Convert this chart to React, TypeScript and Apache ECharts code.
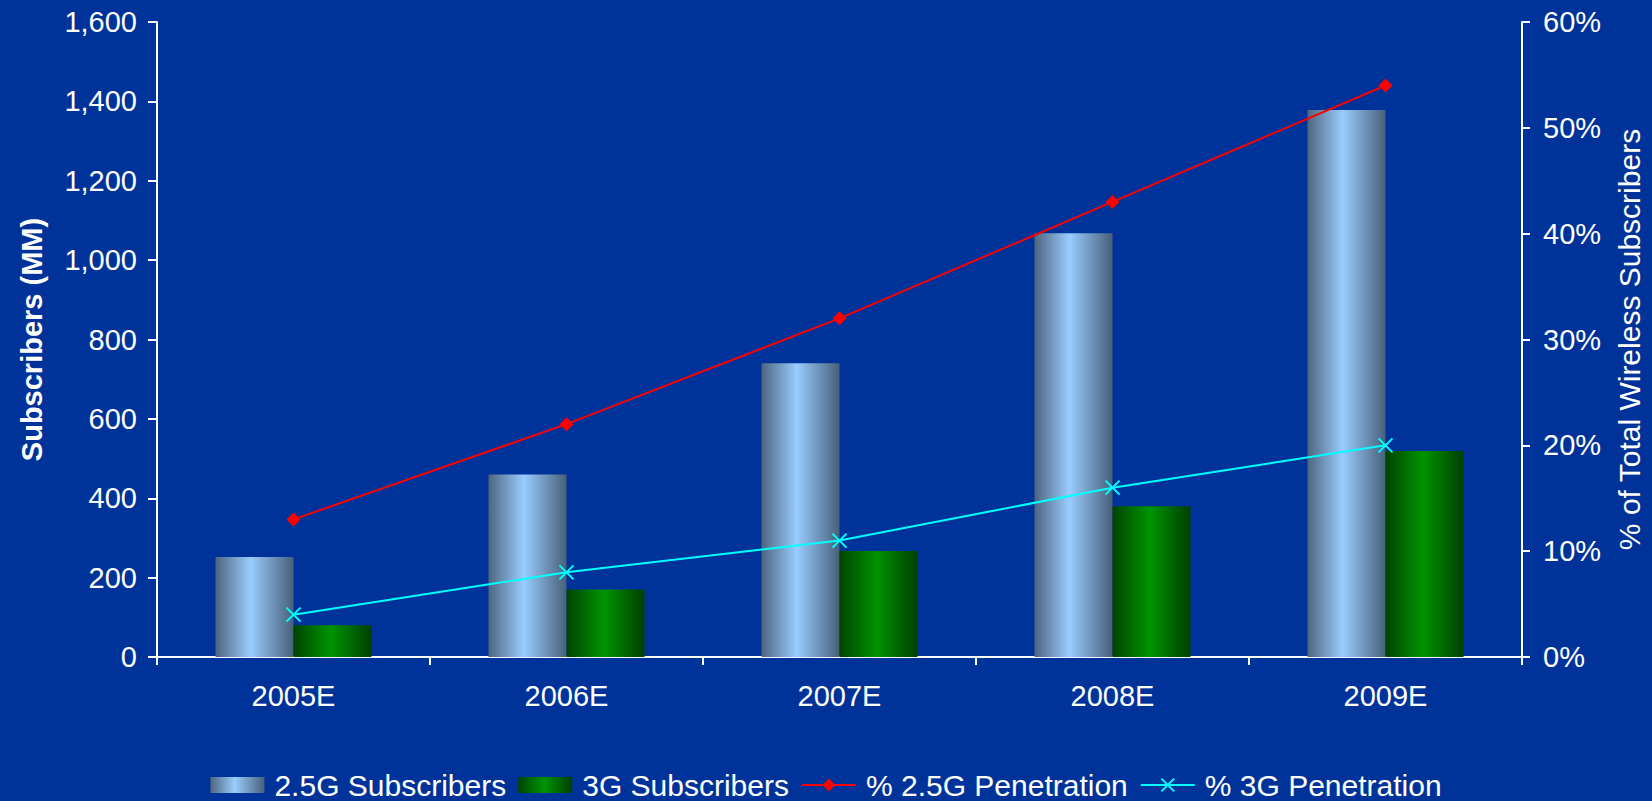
import React, { useEffect, useRef } from "react";
import * as echarts from "echarts";

const categories = ["2005E", "2006E", "2007E", "2008E", "2009E"];
const subscribers25G = [252, 460, 740, 1068, 1378];
const subscribers3G = [80, 170, 267, 380, 519];
const penetration25G = [13, 22, 32, 43, 54];
const penetration3G = [4, 8, 11, 16, 20];

const FONT = "'Liberation Sans', Arial, sans-serif";
const WHITE = "#ffffff";

export default function App() {
  const ref = useRef<HTMLDivElement>(null);

  useEffect(() => {
    if (!ref.current) return;
    const chart = echarts.init(ref.current, undefined, { renderer: "svg" });

    const grad25 = new echarts.graphic.LinearGradient(0, 0, 1, 0, [
      { offset: 0, color: "#4e657f" },
      { offset: 0.45, color: "#99ccff" },
      { offset: 1, color: "#48607a" },
    ]);
    const grad3 = new echarts.graphic.LinearGradient(0, 0, 1, 0, [
      { offset: 0, color: "#004400" },
      { offset: 0.48, color: "#009400" },
      { offset: 1, color: "#003f00" },
    ]);

    chart.setOption({
      animation: false,
      backgroundColor: "#003399",
      textStyle: { fontFamily: FONT, color: WHITE },
      grid: { left: 157, right: 130, top: 22, bottom: 144 },
      legend: {
        top: 765,
        left: "center",
        itemWidth: 54,
        itemHeight: 16,
        itemGap: 12,
        textStyle: {
          color: WHITE,
          fontSize: 30,
          fontFamily: FONT,
          padding: [0, 0, 0, 5],
        },
        data: [
          { name: "2.5G Subscribers", icon: "rect" },
          { name: "3G Subscribers", icon: "rect" },
          { name: "% 2.5G Penetration" },
          { name: "% 3G Penetration" },
        ],
      },
      xAxis: {
        type: "category",
        data: categories,
        boundaryGap: true,
        axisLine: { lineStyle: { color: WHITE, width: 2 } },
        axisTick: { show: true, length: 8, inside: false, lineStyle: { color: WHITE, width: 2 } },
        axisLabel: { color: WHITE, fontSize: 29, fontFamily: FONT, margin: 24 },
      },
      yAxis: [
        {
          type: "value",
          min: 0,
          max: 1600,
          interval: 200,
          position: "left",
          name: "Subscribers (MM)",
          nameLocation: "middle",
          nameGap: 111,
          nameTextStyle: { color: WHITE, fontSize: 29, fontWeight: "bold", fontFamily: FONT },
          axisLine: { show: true, lineStyle: { color: WHITE, width: 2 } },
          axisTick: { show: true, length: 9, lineStyle: { color: WHITE, width: 2 } },
          axisLabel: {
            color: WHITE,
            fontSize: 29,
            fontFamily: FONT,
            margin: 20,
            formatter: (v: number) => v.toLocaleString("en-US"),
          },
          splitLine: { show: false },
        },
        {
          type: "value",
          min: 0,
          max: 60,
          interval: 10,
          position: "right",
          name: "% of Total Wireless Subscribers",
          nameLocation: "middle",
          nameGap: 92,
          nameTextStyle: { color: WHITE, fontSize: 30, fontFamily: FONT },
          axisLine: { show: true, lineStyle: { color: WHITE, width: 2 } },
          axisTick: { show: true, length: 8, lineStyle: { color: WHITE, width: 2 } },
          axisLabel: {
            color: WHITE,
            fontSize: 29,
            fontFamily: FONT,
            margin: 21,
            formatter: "{value}%",
          },
          splitLine: { show: false },
        },
      ],
      series: [
        {
          name: "2.5G Subscribers",
          type: "bar",
          data: subscribers25G,
          barWidth: 78,
          barGap: "0%",
          itemStyle: { color: grad25 },
        },
        {
          name: "3G Subscribers",
          type: "bar",
          data: subscribers3G,
          barWidth: 78,
          barGap: "0%",
          itemStyle: { color: grad3 },
        },
        {
          name: "% 2.5G Penetration",
          type: "line",
          yAxisIndex: 1,
          data: penetration25G,
          symbol: "diamond",
          symbolSize: 14,
          lineStyle: { color: "#ff0000", width: 2 },
          itemStyle: { color: "#ff0000" },
          z: 5,
        },
        {
          name: "% 3G Penetration",
          type: "line",
          yAxisIndex: 1,
          data: penetration3G,
          symbol: "path://M0 0L10 10M10 0L0 10",
          symbolSize: 14,
          lineStyle: { color: "#00ffff", width: 2 },
          itemStyle: { color: "#00ffff", borderColor: "#00ffff", borderWidth: 2 },
          z: 5,
        },
      ],
    });

    return () => chart.dispose();
  }, []);

  return (
    <div
      ref={ref}
      style={{ position: "fixed", left: 0, top: 0, width: 1652, height: 801 }}
    />
  );
}
